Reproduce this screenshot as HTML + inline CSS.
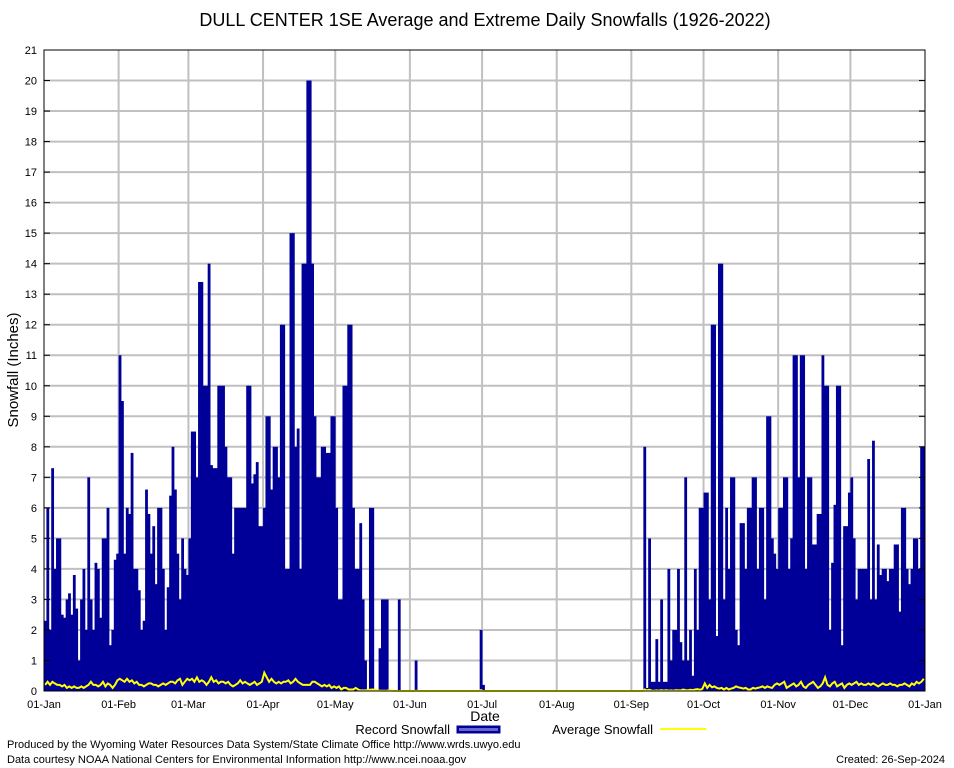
<!DOCTYPE html>
<html><head><meta charset="utf-8"><style>
body{margin:0;background:#fff;}
svg{display:block;font-family:"Liberation Sans",sans-serif;}
</style></head><body>
<svg id="chart" width="954" height="768">
<rect width="954" height="768" fill="#fff"/>
<text x="485" y="26" font-size="18" text-anchor="middle">DULL CENTER 1SE Average and Extreme Daily Snowfalls (1926-2022)</text>
<g id="grid"></g>
<g id="bars"></g>
<g id="avg"></g>
<rect x="44" y="50" width="881" height="641" fill="none" stroke="#000" stroke-width="1"/>
<g id="axes" font-size="11"></g>
<text x="18" y="370" font-size="15" text-anchor="middle" transform="rotate(-90 18 370)">Snowfall (Inches)</text>
<text x="485" y="721" font-size="14" text-anchor="middle">Date</text>
<g>
<text x="450" y="734" font-size="13" text-anchor="end">Record Snowfall</text>
<rect x="457" y="726" width="43" height="7" fill="#000099" stroke="#000099"/>
<rect x="459" y="728" width="39" height="3" fill="#6666cc"/>
</g>
<g>
<text x="653" y="734" font-size="13" text-anchor="end">Average Snowfall</text>
<line x1="660" y1="729" x2="706" y2="729" stroke="#ffff00" stroke-width="2"/>
</g>
<text x="7" y="748" font-size="11">Produced by the Wyoming Water Resources Data System/State Climate Office http://www.wrds.uwyo.edu</text>
<text x="7" y="763" font-size="11">Data courtesy NOAA National Centers for Environmental Information http://www.ncei.noaa.gov</text>
<text x="945" y="763" font-size="11" text-anchor="end">Created: 26-Sep-2024</text>
</svg>
<script>
const monthLabels=["01-Jan","01-Feb","01-Mar","01-Apr","01-May","01-Jun","01-Jul","01-Aug","01-Sep","01-Oct","01-Nov","01-Dec","01-Jan"];
const monthDays=[31,29,31,30,31,30,31,31,30,31,30,31];
const yTicks=[0,1,2,3,4,5,6,7,8,9,10,11,12,13,14,15,16,17,18,19,20,21];
const recJan=[2.3,6,2,7.3,4,5,5,2.5,2.4,3,3.2,2.5,3.8,2.7,1,3,4,2,7,3,2,4.2,4,2.4,5,5,6,1.5,2,4.3,4.5];
const recFeb=[11,9.5,4.5,6,5.8,7.8,4,4,3.3,2,2.3,6.6,5.8,4.5,5.4,3.5,6,6,4,2,3.4,6.4,8,6.6,4.5,3,5,4,3.8];
const recMar=[5,8.5,8.5,7,13.4,13.4,10,10,14,7.4,7.3,7.3,10,10,10,8,7,7,4.5,6,6,6,6,6,10,10,6.8,7.1,7.5,5.4,5.4];
const recApr=[6,9,9,6.6,8,8,7,12,12,4,4,15,15,8,8.6,4,14,14,20,20,14,9,7,7,8,8,7.8,7.8,9,9];
const recMay=[6,3,3,10,10,12,12,6,4,4,5.5,3,1,0,6,6,0,0,1.4,3,3,3,0,0,0,0,3,0,0,0,0];
const recJun=[0,0,1,0,0,0,0,0,0,0,0,0,0,0,0,0,0,0,0,0,0,0,0,0,0,0,0,0,0,2];
const recJul=[0.2,0,0,0,0,0,0,0,0,0,0,0,0,0,0,0,0,0,0,0,0,0,0,0,0,0,0,0,0,0,0];
const recAug=[0,0,0,0,0,0,0,0,0,0,0,0,0,0,0,0,0,0,0,0,0,0,0,0,0,0,0,0,0,0,0];
const recSep=[0,0,0,0,0,8,0.1,5,0.3,0.3,1.7,0.3,3,0.3,0.3,4,1,2,2,4,1.6,1,7,1,2,0.5,4,2,6,6];
const recOct=[6.5,6.5,3,12,12,1.8,14,14,3,6,4,7,7,2,1.5,5.5,5.5,4,6,6,7,7,4,6,6,3,9,9,5,4.5,4];
const recNov=[6,6,7,7,4,5,11,11,7,11,11,4,7,7,4.8,4.8,5.8,5.8,11,10,10,2,4.2,6.1,10,10,1.5,5.4,5.4,6.5];
const recDec=[7,5,3,4,4,4,4,7.6,3,8.2,3,4.8,3.8,4,4,3.6,4,4,4.8,4.8,2.6,6,6,4,3.5,4,5,5,4,8,8];
const avgJan=[0.2,0.3,0.2,0.3,0.25,0.2,0.2,0.15,0.2,0.1,0.15,0.1,0.15,0.1,0.1,0.15,0.1,0.15,0.2,0.3,0.2,0.2,0.15,0.2,0.3,0.15,0.25,0.2,0.1,0.2,0.35];
const avgFeb=[0.4,0.35,0.3,0.4,0.3,0.35,0.25,0.3,0.2,0.2,0.15,0.2,0.25,0.25,0.2,0.2,0.15,0.2,0.25,0.2,0.25,0.3,0.3,0.25,0.35,0.4,0.2,0.3,0.4];
const avgMar=[0.35,0.4,0.3,0.45,0.3,0.35,0.3,0.2,0.3,0.45,0.3,0.35,0.25,0.3,0.3,0.25,0.3,0.2,0.15,0.2,0.25,0.35,0.25,0.3,0.25,0.2,0.25,0.3,0.2,0.25,0.3];
const avgApr=[0.6,0.45,0.3,0.4,0.3,0.25,0.3,0.25,0.3,0.3,0.35,0.25,0.3,0.4,0.3,0.25,0.2,0.2,0.2,0.2,0.3,0.3,0.25,0.2,0.15,0.2,0.15,0.2,0.1,0.15];
const avgMay=[0.1,0.15,0.05,0.1,0.1,0.05,0.05,0.05,0.1,0.05,0.02,0.02,0.02,0.03,0.04,0.05,0.04,0.02,0.01,0.01,0.01,0.01,0.03,0.01,0,0,0,0,0,0,0];
const avgJun=[0,0,0.01,0,0,0,0,0,0,0,0,0,0,0,0,0,0,0,0,0,0,0,0,0,0,0,0,0,0,0.03];
const avgJul=[0,0,0,0,0,0,0,0,0,0,0,0,0,0,0,0,0,0,0,0,0,0,0,0,0,0,0,0,0,0,0];
const avgAug=[0,0,0,0,0,0,0,0,0,0,0,0,0,0,0,0,0,0,0,0,0,0,0,0,0,0,0,0,0,0,0];
const avgSep=[0,0,0,0,0,0.05,0.02,0.04,0.01,0.01,0.02,0.01,0.03,0.01,0.03,0.01,0.02,0.01,0.03,0.02,0.02,0.05,0.03,0.02,0.04,0.03,0.05,0.06,0.04,0.07];
const avgOct=[0.25,0.1,0.2,0.12,0.15,0.1,0.08,0.1,0.05,0.1,0.05,0.08,0.1,0.15,0.12,0.1,0.08,0.1,0.05,0.05,0.1,0.08,0.1,0.12,0.15,0.1,0.15,0.12,0.1,0.2,0.25];
const avgNov=[0.2,0.25,0.3,0.1,0.15,0.2,0.25,0.15,0.2,0.3,0.15,0.1,0.2,0.25,0.3,0.2,0.1,0.15,0.25,0.45,0.2,0.15,0.25,0.3,0.15,0.2,0.25,0.1,0.2,0.25];
const avgDec=[0.2,0.25,0.3,0.2,0.25,0.2,0.2,0.25,0.2,0.25,0.2,0.15,0.2,0.25,0.2,0.2,0.25,0.2,0.2,0.15,0.2,0.2,0.25,0.2,0.15,0.25,0.2,0.3,0.25,0.3,0.4];

const record=[].concat(recJan,recFeb,recMar,recApr,recMay,recJun,recJul,recAug,recSep,recOct,recNov,recDec);
const average=[].concat(avgJan,avgFeb,avgMar,avgApr,avgMay,avgJun,avgJul,avgAug,avgSep,avgOct,avgNov,avgDec);

const NS="http://www.w3.org/2000/svg";
const X0=44,X1=925,Y0=691,Y1=50,YMAX=21;
const nDays=record.length;
const dayW=(X1-X0)/nDays;
function xDay(d){return X0+d*dayW;}
function yVal(v){return Y0-(v/YMAX)*(Y0-Y1);}
function mk(tag,attrs,parent){const e=document.createElementNS(NS,tag);for(const k in attrs)e.setAttribute(k,attrs[k]);parent.appendChild(e);return e;}

const grid=document.getElementById('grid'),axes=document.getElementById('axes');
yTicks.forEach(t=>{
  const y=yVal(t);
  if(t>0&&t<YMAX){const l=mk('line',{x1:X0,x2:X1,y1:y,y2:y,stroke:'#c0c0c0','stroke-width':2},grid);
  
  }
  mk('line',{x1:X0,x2:X0+6,y1:y,y2:y,stroke:'#000'},axes);
  mk('line',{x1:X1-6,x2:X1,y1:y,y2:y,stroke:'#000'},axes);
  const tx=mk('text',{x:37,y:y+4,'text-anchor':'end'},axes);
  tx.textContent=t;
  
  
});
let cum=0;
monthLabels.forEach((m,i)=>{
  const x=xDay(cum);
  if(i>0&&i<12){const l=mk('line',{x1:x,x2:x,y1:Y1,y2:Y0,stroke:'#c0c0c0','stroke-width':2},grid);
  
  }
  const tx=mk('text',{x:x,y:708,'text-anchor':'middle'},axes);
  tx.textContent=m;
  
  
  if(i<12)cum+=monthDays[i];
});
const bars=document.getElementById('bars');
record.forEach((v,d)=>{
  if(v<=0)return;
  const y=yVal(v);
  const r=mk('rect',{x:xDay(d),y:y,width:dayW+0.4,height:Y0-y,fill:'#000099'},bars);
  
  
});
const pts=average.map((v,d)=>(xDay(d)+dayW/2).toFixed(1)+','+yVal(v).toFixed(1)).join(' ');
const pl=mk('polyline',{points:pts,fill:'none',stroke:'#ffff00','stroke-width':2},document.getElementById('avg'));


</script>
</body></html>
